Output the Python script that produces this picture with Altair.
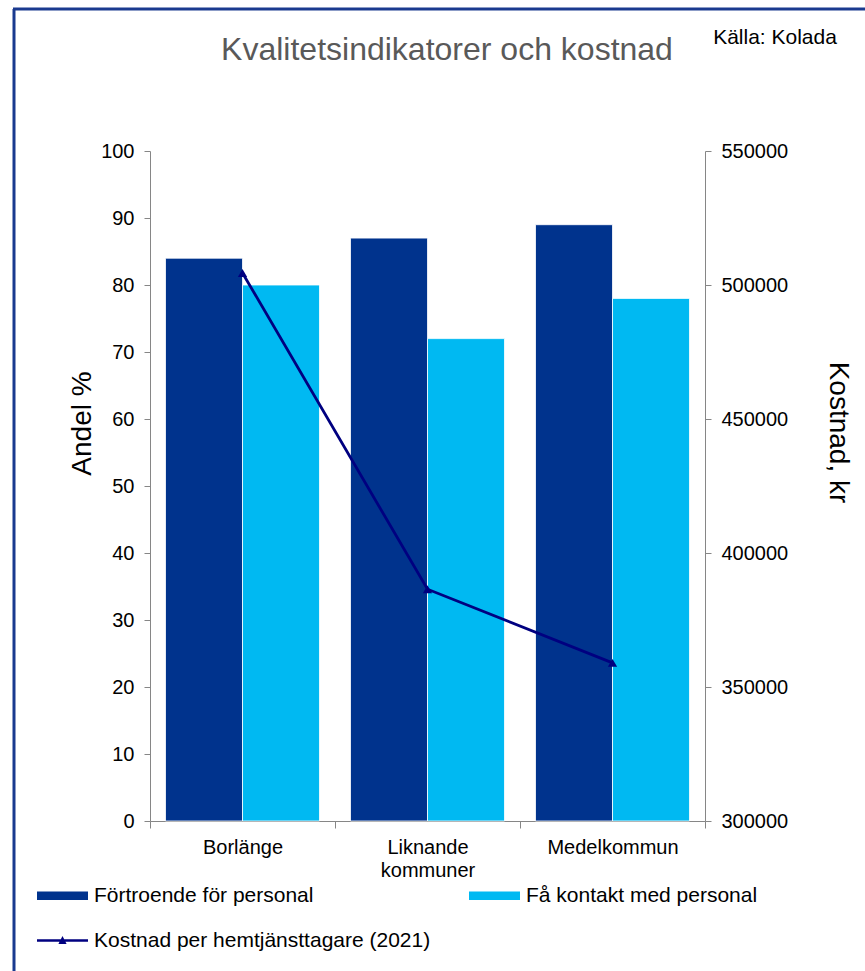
import altair as alt
import pandas as pd

categories = ["Borlänge", "Liknande kommuner", "Medelkommun"]
fortroende = [84, 87, 89]
kontakt = [80, 72, 78]
kostnad = [504500, 386500, 359000]

s_fort = "Förtroende för personal"
s_kont = "Få kontakt med personal"
s_kost = "Kostnad per hemtjänsttagare (2021)"
series = [s_fort, s_kont, s_kost]

DARK = "#00338D"
LIGHT = "#00B9F2"
NAVY = "#000080"
FONT = "Liberation Sans"

bars = pd.DataFrame(
    [{"cat": c, "series": s_fort, "val": v} for c, v in zip(categories, fortroende)]
    + [{"cat": c, "series": s_kont, "val": v} for c, v in zip(categories, kontakt)]
)
line = pd.DataFrame({"cat": categories, "cost": kostnad, "series": s_kost})

x_scale = alt.Scale(domain=categories, paddingInner=0, paddingOuter=0)
x_enc = alt.X(
    "cat:N", scale=x_scale, sort=categories, title=None,
    axis=alt.Axis(
        tickBand="extent", tickSize=7, labelPadding=9, labelAngle=0,
        labelFontSize=20, labelFont=FONT, labelColor="#000000",
        domainColor="#868686", tickColor="#868686", labelLineHeight=23,
        labelExpr="datum.label == 'Liknande kommuner' ? ['Liknande', 'kommuner'] : datum.label",
    ),
)

color_scale = alt.Scale(domain=series, range=[DARK, LIGHT, NAVY])
bar_path = "M-1,-0.17 L1,-0.17 L1,0.17 L-1,0.17 Z"
line_path = "M-1,-0.05 L1,-0.05 L1,0.05 L-1,0.05 Z M-0.16,0.14 L0,-0.18 L0.16,0.14 Z"
shape_scale = alt.Scale(domain=series, range=[bar_path, bar_path, line_path])

legend = alt.Legend(
    title=None, orient="none", legendX=-113, legendY=719, direction="horizontal",
    columns=2, columnPadding=38, rowPadding=9, symbolSize=2601, labelOffset=6,
    labelFont=FONT, labelFontSize=21, labelColor="#000000", symbolStrokeWidth=0,
    symbolOpacity=1, labelLimit=450,
)

bar_layer = alt.Chart(bars).mark_bar(stroke="#ffffff", strokeWidth=0.8).encode(
    x=x_enc,
    xOffset=alt.XOffset("series:N", sort=[s_fort, s_kont],
                        scale=alt.Scale(paddingInner=0, paddingOuter=0.2013)),
    y=alt.Y(
        "val:Q", scale=alt.Scale(domain=[0, 100]), title="Andel %",
        axis=alt.Axis(
            values=list(range(0, 101, 10)), grid=False, tickSize=6, labelPadding=10,
            labelFontSize=20, labelFont=FONT, labelColor="#000000",
            domainColor="#868686", tickColor="#868686",
            titleFont=FONT, titleFontSize=28, titleFontWeight="normal",
            titleColor="#000000", titlePadding=4, titleY=272,
        ),
    ),
    color=alt.Color("series:N", scale=color_scale),
)

y_cost = alt.Y(
    "cost:Q", scale=alt.Scale(domain=[300000, 550000]), title="Kostnad, kr",
    axis=alt.Axis(
        orient="right", values=list(range(300000, 550001, 50000)), format="d",
        grid=False, tickSize=6, labelPadding=10, labelFontSize=20, labelFont=FONT,
        labelColor="#000000", domainColor="#868686", tickColor="#868686",
        titleFont=FONT, titleFontSize=28, titleFontWeight="normal",
        titleColor="#000000", titlePadding=36, titleAngle=90, titleY=281,
    ),
)

line_layer = alt.Chart(line).mark_line(color=NAVY, strokeWidth=2.8).encode(x=x_enc, y=y_cost)
pt_layer = alt.Chart(line).mark_point(
    shape="triangle-up", filled=True, color=NAVY, size=85, opacity=1
).encode(x=x_enc, y=y_cost)
legend_layer = alt.Chart(line).mark_point(filled=True, opacity=1).encode(
    x=x_enc, y=y_cost,
    color=alt.Color("series:N", scale=color_scale, legend=legend),
    shape=alt.Shape("series:N", scale=shape_scale, legend=legend),
).transform_filter("false")

cost_layers = alt.layer(line_layer, pt_layer, legend_layer)

one = alt.Data(values=[{}])
title_txt = alt.Chart(one).mark_text(
    text="Kvalitetsindikatorer och kostnad", font=FONT, fontSize=32,
    color="#595959", align="center", baseline="middle",
).encode(x=alt.value(297), y=alt.value(-101))
source_txt = alt.Chart(one).mark_text(
    text="Källa: Kolada", font=FONT, fontSize=21, color="#000000",
    align="center", baseline="middle",
).encode(x=alt.value(625), y=alt.value(-113))
border_left = alt.Chart(one).mark_rule(color="#1a3a8f", strokeWidth=3).encode(
    x=alt.value(-136), y=alt.value(-142), y2=alt.value(830)
)
border_top = alt.Chart(one).mark_rule(color="#1a3a8f", strokeWidth=3).encode(
    x=alt.value(-137), x2=alt.value(720), y=alt.value(-142)
)

chart = alt.layer(
    bar_layer, cost_layers, title_txt, source_txt, border_left, border_top
).resolve_scale(y="independent").properties(
    width=555, height=670,
    autosize=alt.AutoSizeParams(type="none"),
    padding={"left": 150, "top": 151, "right": 160, "bottom": 150},
    background="#ffffff",
).configure_view(stroke=None)

chart.save("out.html", embed_options={"renderer": "svg", "actions": False})
